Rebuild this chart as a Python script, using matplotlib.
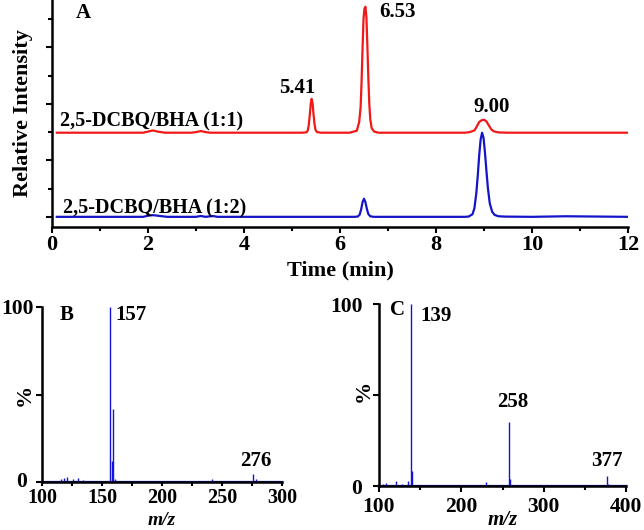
import matplotlib
matplotlib.use("Agg")
import matplotlib.pyplot as plt
from matplotlib.ticker import MultipleLocator

plt.rcParams['font.family'] = ['Liberation Serif', 'DejaVu Serif']
plt.rcParams['font.weight'] = 'bold'
plt.rcParams['axes.labelweight'] = 'bold'

# --- panel A: chromatograms (time in min, relative intensity above own baseline)
red_t = [0.1, 1.9, 2.0, 2.1, 2.2, 2.35, 2.9, 3.0, 3.1, 3.2, 3.3, 3.9, 5.2,
         5.30, 5.33, 5.35, 5.37, 5.39, 5.41, 5.43, 5.45, 5.47, 5.49, 5.52, 5.6,
         6.2, 6.35, 6.40, 6.43, 6.45, 6.47, 6.49, 6.51, 6.53, 6.55, 6.57, 6.59,
         6.61, 6.63, 6.66, 6.71, 6.8, 8.6, 8.7, 8.8, 8.85, 8.9, 8.95, 9.00, 9.05,
         9.1, 9.15, 9.2, 9.3, 9.5, 12.0]
red_i = [0.0, 0.0, 0.02, 0.04, 0.02, 0.0, 0.0, 0.01, 0.03, 0.01, 0.0, 0.0, 0.0,
         0.006, 0.04, 0.14, 0.31, 0.51, 0.60, 0.51, 0.31, 0.15, 0.05, 0.012, 0.0,
         0.0, 0.035, 0.19, 0.46, 0.92, 1.50, 2.02, 2.20, 2.23, 2.05, 1.55, 0.98,
         0.52, 0.24, 0.08, 0.02, 0.0, 0.0, 0.01, 0.04, 0.11, 0.19, 0.22, 0.23,
         0.20, 0.13, 0.06, 0.025, 0.005, 0.0, 0.0]
blue_t = [0.1, 1.9, 2.0, 2.1, 2.2, 2.4, 3.0, 3.1, 3.2, 3.35, 3.45, 3.6, 4.8,
          6.3, 6.37, 6.41, 6.44, 6.47, 6.50, 6.53, 6.56, 6.59, 6.63, 6.7, 6.8,
          8.6, 8.68, 8.76, 8.80, 8.84, 8.87, 8.90, 8.93, 8.96, 8.99, 9.02, 9.05,
          9.08, 9.12, 9.17, 9.22, 9.3, 9.45, 10.0, 10.7, 12.0]
blue_i = [0.0, 0.0, 0.02, 0.03, 0.02, 0.0, 0.0, 0.015, 0.0, 0.015, 0.0, 0.0, 0.0,
          0.0, 0.005, 0.04, 0.13, 0.26, 0.32, 0.26, 0.14, 0.05, 0.01, 0.0, 0.0,
          0.0, 0.005, 0.045, 0.15, 0.42, 0.73, 1.09, 1.37, 1.49, 1.40, 1.14,
          0.82, 0.52, 0.24, 0.09, 0.035, 0.01, 0.004, 0.0, 0.01, 0.0]
red_offset = 1.49
peak_labels = ["5.41", "6.53", "9.00"]
peak_label_t = [5.1, 7.19, 9.16]
peak_label_y = [2.28, 3.62, 1.94]

# --- panel B / C: mass spectra (m/z, relative abundance %)
b_mz = [116, 118, 121, 126, 130, 134, 157, 158, 159, 161, 242, 276, 278]
b_ab = [1.5, 2.5, 3, 1.5, 2.5, 1, 100, 12, 42, 2, 1.5, 4.5, 1.5]
c_mz = [105, 109, 121, 128, 135, 139, 140, 172, 230, 258, 259, 377, 378]
c_ab = [1, 1.5, 2.5, 1, 3, 100, 8, 0.7, 2, 35, 4, 5.7, 1]

W, H = 644, 530
fig = plt.figure(figsize=(W / 100, H / 100), dpi=100)


def px_axes(left, top, right, bottom):
    return fig.add_axes([left / W, (H - bottom) / H, (right - left) / W, (bottom - top) / H])


def style(ax, size):
    for s in ['top', 'right']:
        ax.spines[s].set_visible(False)
    for s in ['left', 'bottom']:
        ax.spines[s].set_linewidth(1.8)
    ax.tick_params(which='both', direction='out', width=1.5, labelsize=size, pad=2)
    ax.tick_params(which='major', length=4)
    ax.tick_params(which='minor', length=3)


# panel A
ax = px_axes(52, 0, 628, 227)
style(ax, 16)
ax.plot(red_t, [v + red_offset for v in red_i], color='#f01818', lw=1.6)
ax.plot(blue_t, blue_i, color='#1414c8', lw=1.6)
ax.set_xlim(0, 12)
ax.set_ylim(-0.18, 3.84)
ax.xaxis.set_major_locator(MultipleLocator(2))
ax.xaxis.set_minor_locator(MultipleLocator(1))
ax.yaxis.set_major_locator(MultipleLocator(1))
ax.yaxis.set_minor_locator(MultipleLocator(0.5))
ax.set_yticklabels([])
ax.set_xlabel("Time (min)", fontsize=16, labelpad=4)
ax.set_ylabel("Relative Intensity", fontsize=16, labelpad=8)
ax.text(0.5, 3.52, "A", fontsize=15)
ax.text(0.17, 1.6, "2,5-DCBQ/BHA (1:1)", fontsize=14.5)
ax.text(0.23, 0.06, "2,5-DCBQ/BHA (1:2)", fontsize=14.5)
for lab, t, y in zip(peak_labels, peak_label_t, peak_label_y):
    ax.text(t, y, lab, fontsize=15, ha='center', va='center')

# panel B
axb = px_axes(42, 307, 282, 482)
style(axb, 15.5)
axb.tick_params(axis='x', labelsize=14.5, pad=1.5, length=3)
axb.vlines(b_mz, 0, b_ab, color='#1414d8', lw=1.0)
axb.axhline(0, color='#1414d8', lw=1.6, clip_on=False)
axb.set_xlim(100, 300)
axb.set_ylim(0, 100)
axb.xaxis.set_major_locator(MultipleLocator(50))
axb.xaxis.set_minor_locator(MultipleLocator(25))
axb.set_yticks([0, 50, 100])
axb.set_yticklabels(["", "", "100"])
axb.text(-15 / 240, 0.0, "0", fontsize=15.5, ha='right', va='center',
         transform=axb.transAxes)
axb.text(-0.07, 0.5, "%", fontsize=16, rotation=90, ha='center', va='center',
         transform=axb.transAxes)
axb.text(0.5, -0.27, "m/z", fontsize=14, style='italic', ha='center', va='bottom',
         transform=axb.transAxes)
axb.text(115, 101, "B", fontsize=15, va='top', clip_on=False)
axb.text(161, 101, "157", fontsize=15, va='top', clip_on=False)
axb.text(278, 12, "276", fontsize=15, ha='center', va='center')

# panel C
axc = px_axes(379, 304, 626, 486)
style(axc, 15.5)
axc.tick_params(axis='x', pad=4)
axc.tick_params(axis='y', pad=8)
axc.vlines(c_mz, 0, c_ab, color='#1414d8', lw=1.0)
axc.axhline(0, color='#1414d8', lw=1.6, clip_on=False)
axc.set_xlim(100, 400)
axc.set_ylim(0, 100)
axc.xaxis.set_major_locator(MultipleLocator(100))
axc.xaxis.set_minor_locator(MultipleLocator(50))
axc.set_yticks([0, 50, 100])
axc.set_yticklabels(["0", "", "100"])
axc.text(-0.06, 0.52, "%", fontsize=16, rotation=90, ha='center', va='center',
         transform=axc.transAxes)
axc.text(0.5, -0.185, "m/z", fontsize=15, style='italic', ha='center', va='center',
         transform=axc.transAxes)
axc.text(113, 102, "C", fontsize=15, va='top', clip_on=False)
axc.text(150, 99, "139", fontsize=15, va='top', clip_on=False)
axc.text(262, 46, "258", fontsize=15, ha='center', va='center')
axc.text(377, 14, "377", fontsize=15, ha='center', va='center')

fig.savefig("out.png", dpi=100)
